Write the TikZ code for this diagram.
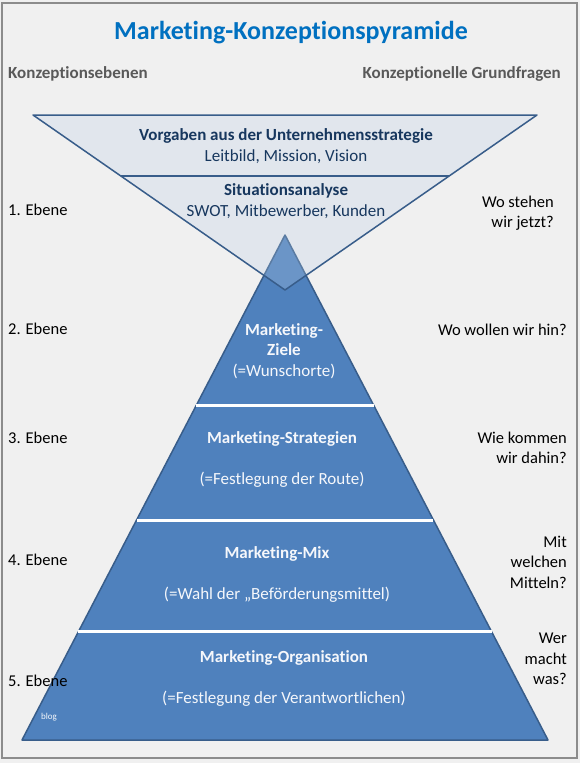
\documentclass[tikz,border=0pt]{standalone}
\usepackage{fontspec}
\setmainfont[Ligatures=NoCommon]{Carlito}
\usetikzlibrary{calc}
\definecolor{titleblue}{HTML}{0070C0}
\definecolor{headgray}{HTML}{595959}
\definecolor{pyrblue}{HTML}{4F81BD}
\definecolor{pyrline}{HTML}{385D8A}
\definecolor{funnelfill}{HTML}{B9CDE5}
\definecolor{navy}{HTML}{17375E}
\definecolor{bggray}{HTML}{F0F0F0}
\definecolor{framegray}{HTML}{8C8C8C}

\begin{document}
\begin{tikzpicture}[x=1pt,y=-1pt,
  every node/.style={inner sep=0pt},
  head/.style={font=\fontsize{17}{20}\selectfont\bfseries, text=headgray},
  ebene/.style={font=\fontsize{16.5}{20.5}\selectfont, anchor=west},
  frage/.style={font=\fontsize{16.5}{20.5}\selectfont, anchor=east, align=right},
  funneltext/.style={font=\fontsize{17}{21}\selectfont, text=navy},
  pyrtext/.style={font=\fontsize{17}{20.5}\selectfont, text=white!94!pyrblue, align=center}]
% Canvas and frame
\useasboundingbox (0,0) rectangle (580,763);
\fill[bggray] (0,0) rectangle (580,763);
\draw[framegray, line width=2pt] (2,3) rectangle (577,758);
% Title and column heads
\node[font=\fontsize{26}{30}\selectfont\bfseries, text=titleblue] (title) at (291,33) {Marketing-Konzeptionspyramide};
\node[head, anchor=west] (ebenen) at (8,74) {Konzeptionsebenen};
\node[head, anchor=east] (fragen) at (561,74) {Konzeptionelle Grundfragen};
% Pyramid corners
\coordinate (top) at (285,235);
\coordinate (bl) at (22,740);
\coordinate (br) at (548,740);
\filldraw[pyrline, fill=pyrblue, line width=1.5pt, line join=round] (top) -- (br) -- (bl) -- cycle;
% White lines between the levels
\foreach \t in {0.3386,0.5644,0.7861}
  \draw[white, line width=3pt] ($(top)!\t!(bl)$) -- ($(top)!\t!(br)$);
% Funnel on top, see-through
\coordinate (fl) at (33,115);
\coordinate (fr) at (537,115);
\coordinate (fb) at (285,290);
\filldraw[pyrline, fill=funnelfill, fill opacity=.27, line width=1.5pt, line join=round] (fl) -- (fr) -- (fb) -- cycle;
\draw[pyrline, line width=1.5pt] ($(fl)!.3486!(fb)$) -- ($(fr)!.3486!(fb)$);
% Funnel texts
\node[funneltext, font=\fontsize{17}{21}\selectfont\bfseries] (vorgaben) at (286,136) {Vorgaben aus der Unternehmensstrategie};
\node[funneltext] (leitbild) at (286,157) {Leitbild, Mission, Vision};
\node[funneltext, font=\fontsize{17}{21}\selectfont\bfseries] (situation) at (286,191) {Situationsanalyse};
\node[funneltext] (swot) at (286,212) {SWOT, Mitbewerber, Kunden};
% Pyramid texts
\node[pyrtext] (ziele) at (284,351) {\textbf{Marketing-}\\\textbf{Ziele}\\(=Wunschorte)};
\node[pyrtext, font=\fontsize{17}{20.5}\selectfont\bfseries] (strat) at (282,439) {Marketing-Strategien};
\node[pyrtext] (route) at (282,480) {(=Festlegung der Route)};
\node[pyrtext, font=\fontsize{17}{20.5}\selectfont\bfseries] (mix) at (277,554) {Marketing-Mix};
\node[pyrtext] (mittel) at (277,595) {(=Wahl der „Beförderungsmittel)};
\node[pyrtext, font=\fontsize{17}{20.5}\selectfont\bfseries] (orga) at (284,658) {Marketing-Organisation};
\node[pyrtext] (verantw) at (284,699) {(=Festlegung der Verantwortlichen)};
\node[pyrtext, font=\fontsize{9}{10}\selectfont] (blog) at (49,717) {blog};
% Levels on the left
\foreach \n/\y in {1/210,2/329,3/438,4/560,5/681}
  \node[ebene] (ebene\n) at (8,\y) {\n. Ebene};
% Questions on the right
\node[frage] (frage1) at (554,213) {Wo stehen\\wir jetzt?};
\node[frage] (frage2) at (567,330) {Wo wollen wir hin?};
\node[frage] (frage3) at (567,448) {Wie kommen\\wir dahin?};
\node[frage] (frage4) at (567,562) {Mit\\welchen\\Mitteln?};
\node[frage] (frage5) at (567,659) {Wer\\macht\\was?};
\end{tikzpicture}
\end{document}
